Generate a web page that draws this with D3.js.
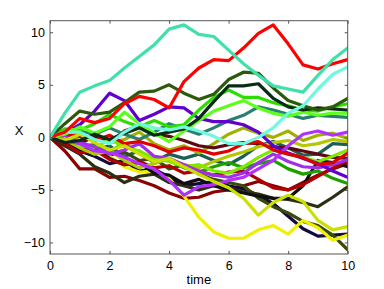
<!DOCTYPE html>
<html><head><meta charset="utf-8">
<script src="https://cdn.jsdelivr.net/npm/d3@7"></script>
<style>html,body{margin:0;padding:0;background:#fff;}svg{display:block;}</style>
</head><body>
<svg id="chart" width="384" height="289"></svg>
<script>
const times = [0,0.5,1,1.5,2,2.5,3,3.5,4,4.5,5,5.5,6,6.5,7,7.5,8,8.5,9,9.5,10];
const xTicks = [0,2,4,6,8,10];
const yTicks = [-10,-5,0,5,10];
const xLabel = "time";
const yLabel = "X";

const colors = [
  "#1f5e55","#8b0000","#150a3a","#3a4a0e","#f0f000","#2a3010","#101010",
  "#a4b000","#20a000","#b00000","#5a0a10","#b4c800","#7fe800","#2a8070",
  "#a030e8","#6000d0","#b030ff","#e00000","#cce000","#2edd00","#5cff1a",
  "#0a2a18","#2b5a0b","#70f8e0","#ff0000","#40e0a8"
];
const series = [
  [0,-0.8,-0.4,-1.2,-0.8,-1.8,-1.3,-2.3,-1.6,-2.0,-1.6,-2.2,-2.6,-1.8,-0.8,-0.4,-1.0,-1.7,-1.6,-0.6,-0.7],
  [0,-1.3,-3.0,-3.0,-3.8,-3.7,-4.1,-4.6,-5.3,-5.8,-5.7,-5.2,-5.0,-4.6,-4.2,-4.6,-5.0,-4.3,-3.6,-3.0,-2.5],
  [0,-0.3,-1.3,-1.8,-2.5,-2.2,-3.2,-3.0,-3.8,-4.6,-4.4,-4.2,-4.6,-4.9,-5.5,-6.3,-7.5,-8.7,-9.4,-9.3,-9.2],
  [0,-0.6,-1.0,-0.8,-1.7,-1.4,-2.2,-2.0,-3.0,-2.6,-3.5,-4.0,-4.3,-4.6,-5.8,-6.6,-7.2,-8.0,-8.4,-9.3,-10.7],
  [0,-0.3,-0.9,-0.6,-1.8,-2.8,-3.3,-3.2,-3.9,-5.6,-7.6,-9.0,-9.6,-9.6,-8.8,-8.4,-9.2,-7.9,-8.6,-9.8,-9.3],
  [0,-0.8,-1.6,-2.8,-3.4,-4.3,-3.7,-3.5,-4.3,-4.6,-5.0,-4.6,-4.8,-5.2,-5.4,-5.8,-5.9,-6.2,-6.6,-5.7,-4.7],
  [0,-0.4,-1.2,-1.0,-2.0,-2.6,-2.4,-3.4,-3.6,-4.4,-4.0,-4.6,-5.0,-5.3,-5.6,-5.8,-5.8,-4.6,-2.2,-2.4,-2.8],
  [0,0.3,-0.3,0.4,-0.5,-0.2,0.5,-0.6,-1.2,-0.8,-1.5,-0.6,0.3,0.9,0.4,0.0,0.6,-0.3,0.2,0.4,-0.1],
  [0,-0.3,-0.9,-0.7,-1.3,-0.6,-1.5,-2.4,-2.0,-2.9,-3.3,-2.8,-2.4,-2.9,-2.5,-2.2,-3.0,-3.5,-3.2,-3.9,-4.4],
  [0,-0.6,-1.5,-1.2,-2.1,-2.6,-2.3,-2.9,-2.7,-3.4,-3.2,-3.6,-3.3,-3.2,-4.0,-4.8,-5.0,-4.5,-3.7,-2.9,-2.2],
  [0,-0.2,-0.6,0.1,-0.5,0.6,1.1,0.3,0.1,-0.3,-0.8,-1.0,-0.7,-0.5,-0.6,-0.9,-1.0,-1.3,-1.6,-1.9,-2.0],
  [0,-0.2,-1.0,-1.6,-1.3,-2.2,-2.9,-2.5,-2.0,-2.6,-2.9,-2.3,-1.8,-1.4,-0.9,-0.5,-0.3,-0.8,-0.6,-0.2,-0.4],
  [0,0.2,-0.8,-1.0,-0.2,-0.9,-1.3,-2.0,-2.3,-2.8,-2.6,-3.2,-3.4,-2.8,-1.9,-1.2,-1.6,-1.9,-2.3,-1.8,-1.2],
  [0,-0.4,0.6,0.3,0.9,0.3,-0.2,0.5,1.3,0.8,0.3,0.9,1.6,2.1,2.9,2.6,2.2,1.8,2.1,2.0,1.9],
  [0,0.2,-0.5,-0.9,-1.6,-1.2,-0.6,-1.8,-2.0,-2.6,-3.2,-3.6,-3.8,-3.4,-2.4,-1.6,-2.3,-2.8,-2.9,-2.6,-2.1],
  [0,0.4,1.2,2.5,4.2,3.5,1.6,2.2,2.9,2.8,1.8,1.5,1.5,1.2,0.5,-0.8,-1.5,-2.0,-2.5,-3.2,-3.8],
  [0,-0.3,-0.6,-1.3,-1.4,-1.9,-2.5,-3.0,-4.1,-5.5,-4.7,-4.5,-4.1,-3.8,-3.0,-2.2,-0.8,0.3,0.6,0.2,0.5],
  [0,0.3,0.1,-0.3,0.2,-0.6,-0.4,-0.8,-1.4,-1.0,-1.2,-1.6,-1.3,-0.6,-0.4,-1.2,-1.6,-1.9,-2.6,-2.4,-1.5],
  [0,-0.3,0.3,-0.5,-1.2,-0.8,-1.6,-2.3,-2.0,-2.8,-3.5,-4.2,-4.8,-5.8,-7.4,-6.2,-5.5,-6.1,-7.9,-8.8,-8.5],
  [0,0.8,0.7,1.3,2.2,1.5,1.0,1.6,1.0,1.2,2.6,3.8,4.5,3.8,3.8,3.3,3.0,2.6,2.5,2.9,3.2],
  [0,0.3,1.0,0.4,1.0,2.4,1.3,0.4,-0.4,0.6,1.6,2.5,3.0,3.5,2.8,2.3,2.0,2.4,2.1,2.3,2.3],
  [0,-0.5,-0.3,0.3,-0.2,0.4,0.9,0.2,0.5,0.8,1.8,3.4,4.9,4.9,5.1,3.7,2.9,2.6,2.8,2.7,2.6],
  [0,1.3,2.5,2.2,2.4,3.3,4.3,4.4,5.0,4.2,3.6,4.1,5.5,6.2,6.1,4.7,3.5,3.0,2.6,2.9,3.7],
  [0,0.5,0.5,-0.2,-0.6,0.5,1.3,0.9,0.7,1.0,0.6,0.1,-0.6,-0.6,0.0,0.9,2.3,3.0,4.6,6.0,6.7],
  [0,0.5,1.8,1.4,1.8,3.2,3.9,3.6,2.8,5.3,6.6,7.4,7.3,8.5,9.9,10.7,8.9,6.9,6.5,7.0,7.4],
  [0,2.3,4.3,4.9,5.4,6.6,7.7,8.8,10.3,10.7,9.8,9.6,8.3,7.0,5.9,4.9,4.6,4.3,5.9,7.4,8.5]
];

const svg = d3.select("#chart");
const L = 50, R = 347.7, T = 20.7, B = 254;
const x = d3.scaleLinear().domain([0,10]).range([L,R]);
const y = d3.scaleLinear().domain([-11.1,11.1]).range([B,T]);
const font = "'Liberation Sans', Arial, Helvetica, sans-serif";
const axisColor = "#555";

svg.append("defs").append("clipPath").attr("id","clip")
  .append("rect").attr("x",L).attr("y",T).attr("width",R-L).attr("height",B-T);

const line = d3.line().x((d,i)=>x(times[i])).y(d=>y(d));
svg.append("g").attr("clip-path","url(#clip)")
  .selectAll("path").data(series).join("path")
  .attr("d", d=>line(d))
  .attr("fill","none")
  .attr("stroke",(d,i)=>colors[i])
  .attr("stroke-width",3.2)
  .attr("stroke-linejoin","round")
  .attr("stroke-linecap","round");

const tk = 3;
const gB = svg.append("g").attr("transform",`translate(0,${B})`)
  .call(d3.axisBottom(x).tickValues(xTicks).tickSizeInner(-tk).tickSizeOuter(0).tickPadding(7).tickFormat(d3.format("d")));
const gT = svg.append("g").attr("transform",`translate(0,${T})`)
  .call(d3.axisTop(x).tickValues(xTicks).tickSizeInner(-tk).tickSizeOuter(0).tickFormat(""));
const gL = svg.append("g").attr("transform",`translate(${L},0)`)
  .call(d3.axisLeft(y).tickValues(yTicks).tickSizeInner(-tk).tickSizeOuter(0).tickPadding(5).tickFormat(d=>d<0?"\u2212"+Math.abs(d):String(d)));
const gR = svg.append("g").attr("transform",`translate(${R},0)`)
  .call(d3.axisRight(y).tickValues(yTicks).tickSizeInner(-tk).tickSizeOuter(0).tickFormat(""));
[gB,gT,gL,gR].forEach(g=>{
  g.select(".domain").remove();
  g.selectAll("line").attr("stroke",axisColor);
  g.selectAll("text").attr("fill","#000").style("font-family",font).style("font-size","12.5px");
});
svg.append("rect").attr("x",L).attr("y",T).attr("width",R-L).attr("height",B-T)
  .attr("fill","none").attr("stroke",axisColor).attr("stroke-width",1);

svg.append("text").attr("x",(L+R)/2).attr("y",284).attr("text-anchor","middle")
  .style("font-family",font).style("font-size","13px").text(xLabel);
svg.append("text").attr("x",19).attr("y",135).attr("text-anchor","middle")
  .style("font-family",font).style("font-size","13px").text(yLabel);
</script>
</body></html>
